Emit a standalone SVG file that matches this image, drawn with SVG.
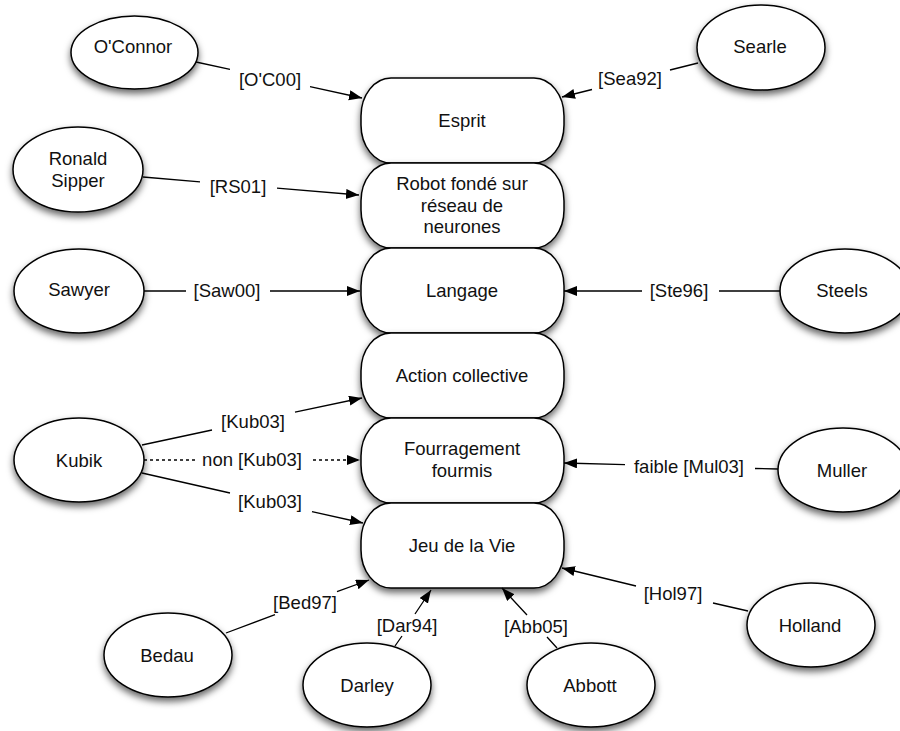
<svg xmlns="http://www.w3.org/2000/svg" width="900" height="731" viewBox="0 0 900 731">
<defs>
<filter id="sh" x="-20%" y="-20%" width="140%" height="150%">
<feDropShadow dx="0" dy="4" stdDeviation="3.5" flood-color="#000" flood-opacity="0.6"/>
</filter>
<marker id="ar" markerUnits="userSpaceOnUse" markerWidth="14" markerHeight="12" refX="13" refY="5" orient="auto">
<path d="M0,0 L13,5 L0,10 z" fill="#000"/>
</marker>
</defs>
<style>
.n ellipse,.n rect{fill:#fff;stroke:#000;stroke-width:1.5;filter:url(#sh)}
text{font-family:"Liberation Sans",Arial,Helvetica,sans-serif;font-size:18.5px;fill:#111;text-anchor:middle}
.c path{fill:none;stroke:#000;stroke-width:1.3}
.c path.a{marker-end:url(#ar)}
.c path.d{stroke-dasharray:3,3}
</style>
<rect width="900" height="731" fill="#fff"/>

<g id="esprit" class="n"><rect x="361" y="78" width="203" height="85" rx="30" ry="38"/><text x="462" y="127">Esprit</text></g>
<g id="robot" class="n"><rect x="361" y="163" width="203" height="85" rx="30" ry="38"/><text x="462" y="190">Robot fondé sur</text><text x="462" y="211.5">réseau de</text><text x="462" y="233">neurones</text></g>
<g id="langage" class="n"><rect x="361" y="248" width="203" height="85" rx="30" ry="38"/><text x="462" y="297">Langage</text></g>
<g id="action" class="n"><rect x="361" y="333" width="203" height="85" rx="30" ry="38"/><text x="462" y="382">Action collective</text></g>
<g id="fourrage" class="n"><rect x="361" y="418" width="203" height="85" rx="30" ry="38"/><text x="462" y="455">Fourragement</text><text x="462" y="477">fourmis</text></g>
<g id="jeu" class="n"><rect x="361" y="503" width="203" height="85" rx="30" ry="38"/><text x="462" y="552">Jeu de la Vie</text></g>

<g id="oconnor" class="n"><ellipse cx="134.5" cy="52.5" rx="63.5" ry="36.5"/><text x="133" y="53">O'Connor</text></g>
<g id="searle" class="n"><ellipse cx="761" cy="47.5" rx="64" ry="42.5"/><text x="760" y="53">Searle</text></g>
<g id="sipper" class="n"><ellipse cx="78" cy="169.5" rx="65" ry="42.5"/><text x="78" y="165">Ronald</text><text x="78" y="187">Sipper</text></g>
<g id="sawyer" class="n"><ellipse cx="79" cy="291" rx="65" ry="42"/><text x="79" y="296">Sawyer</text></g>
<g id="steels" class="n"><ellipse cx="845" cy="291" rx="65" ry="42"/><text x="842" y="297">Steels</text></g>
<g id="kubik" class="n"><ellipse cx="79" cy="460" rx="65" ry="42"/><text x="79" y="467">Kubik</text></g>
<g id="muller" class="n"><ellipse cx="843" cy="470" rx="65" ry="42"/><text x="842" y="477">Muller</text></g>
<g id="bedau" class="n"><ellipse cx="168" cy="655" rx="64" ry="42"/><text x="167" y="662">Bedau</text></g>
<g id="darley" class="n"><ellipse cx="367" cy="685" rx="64" ry="42"/><text x="367" y="692">Darley</text></g>
<g id="abbott" class="n"><ellipse cx="591" cy="685" rx="64" ry="42"/><text x="590" y="692">Abbott</text></g>
<g id="holland" class="n"><ellipse cx="811" cy="625" rx="64" ry="42"/><text x="810" y="632">Holland</text></g>

<g id="connectors" class="c">
<path class="a" d="M196,62 L230,69.4 M310,86.7 L362,98"/>
<text x="270" y="86">[O'C00]</text>
<path class="a" d="M698,63 L670,70 M592,89.5 L562,97"/>
<text x="630" y="85">[Sea92]</text>
<path class="a" d="M143,177 L200,181.8 M277,188.2 L359,195"/>
<text x="238" y="193">[RS01]</text>
<path class="a" d="M144,291 L186,291 M270,291 L360,291"/>
<text x="227" y="297">[Saw00]</text>
<path class="a" d="M780,291 L719,291 M642,291 L564,291"/>
<text x="679" y="297">[Ste96]</text>
<path class="a" d="M142,445 L212,430 M295,412.2 L362,398"/>
<text x="253" y="428">[Kub03]</text>
<path class="a d" d="M144,460 L195,460 M313,460 L360,460"/>
<text x="252" y="466">non [Kub03]</text>
<path class="a" d="M142,473 L230,493 M312,511.6 L363,523"/>
<text x="270" y="508">[Kub03]</text>
<path class="a" d="M778,469 L755,468.5 M625,464.7 L564,463"/>
<text x="689" y="473">faible [Mul03]</text>
<path class="a" d="M226,633 L275,614.7 M337,591.6 L369,580"/>
<text x="305" y="609">[Bed97]</text>
<path class="a" d="M395,646 L402,636 M415,614 L431,590"/>
<text x="407" y="632">[Dar94]</text>
<path class="a" d="M557,648 L547,637 M527,615 L502,588"/>
<text x="536" y="633">[Abb05]</text>
<path class="a" d="M748,611 L713,603 M636,586 L562,568"/>
<text x="673" y="600">[Hol97]</text>
</g>
</svg>
